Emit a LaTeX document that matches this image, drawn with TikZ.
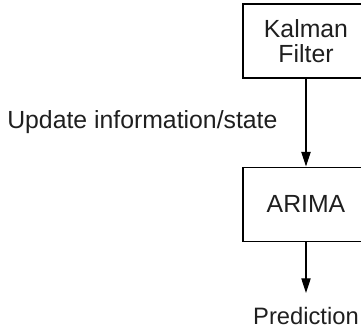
\documentclass[tikz,border=0pt]{standalone}
\usepackage{fontspec}
\setmainfont{Liberation Sans}
\usetikzlibrary{positioning,arrows.meta}

\begin{document}
\begin{tikzpicture}[
    box/.style={draw, line width=0.8pt, minimum width=94.5pt, minimum height=55.5pt, align=center, inner sep=0pt},
    flow/.style={-{Triangle[length=11pt,width=7pt]}, line width=0.8pt},
    font=\fontsize{18.6}{18.75}\selectfont, text=black!88
]
    \useasboundingbox (0,0) rectangle (270.75pt,-247.5pt);
    \clip (0,0) rectangle (270.75pt,-247.5pt);

    \node[box] (kalman) at (229.5pt,-30.75pt) {Kalman\\Filter};
    \node[box, below=66pt of kalman] (arima) {ARIMA};
    \node[below=49pt of arima, inner sep=0pt, font=\fontsize{17.8}{18}\selectfont] (pred) {Prediction};
    \coordinate[above=10.5pt of pred.north] (tip);

    \draw[flow] (kalman) -- node[midway, left=21pt, inner sep=0pt] {Update information/state} (arima);
    \draw[flow] (arima) -- (tip);
\end{tikzpicture}
\end{document}
